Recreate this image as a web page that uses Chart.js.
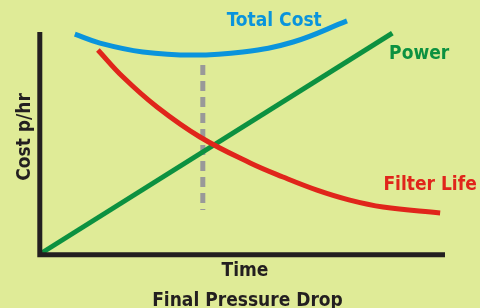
<!DOCTYPE html>
<html>
<head>
<meta charset="utf-8">
<script src="https://cdn.jsdelivr.net/npm/chart.js@4.4.1/dist/chart.umd.min.js"></script>
<style>
    html, body { margin: 0; padding: 0; background: #dfeb97; }
    #wrap { width: 480px; height: 308px; }
</style>
</head>
<body>
<div id="wrap"><canvas id="myChart" width="480" height="308"></canvas></div>
<script>
// values (x = time, y = cost, both 0..100)
var totalCostX = [8.6, 14.8, 25.4, 37.8, 50.1, 62.5, 75.8];
var totalCostY = [99.0, 95.0, 91.0, 89.6, 91.0, 95.5, 105.0];

var filterLifeX = [14.3, 20.5, 28.9, 39.5, 51.9, 60.0, 68.4, 76.5, 84.7, 98.8];
var filterLifeY = [91.9, 79.7, 66.2, 52.7, 41.0, 34.7, 28.8, 24.3, 21.2, 18.5];

var powerX = [0, 87];
var powerY = [0, 99.5];

var optimumX = [40.2, 40.2];
var optimumY = [85.1, 19.8];

var xTitle = 'Time';
var xSubTitle = 'Final Pressure Drop';
var yTitle = 'Cost p/hr';

var FONT = "bold 19px 'DejaVu Sans Condensed', 'DejaVu Sans', sans-serif";

function toPoints(xs, ys){
    var pts = [];
    for (var i = 0; i < xs.length; i++) {
        pts.push({x: xs[i], y: ys[i]});
    }
    return pts;
}

var bgPlugin = {
    id: 'bg',
    beforeDraw: function(chart){
        var c = chart.ctx;
        c.save();
        c.fillStyle = '#dfeb97';
        c.fillRect(0, 0, chart.width, chart.height);
        c.restore();
    }
};

var axesPlugin = {
    id: 'axesAndText',
    afterDatasetsDraw: function(chart){
        var c = chart.ctx;
        var a = chart.chartArea;
        c.save();
        c.strokeStyle = '#231f20';
        c.lineWidth = 5;
        c.lineCap = 'butt';
        c.beginPath();
        c.moveTo(a.left - 0.2, a.top);
        c.lineTo(a.left - 0.2, a.bottom + 3.3);
        c.moveTo(a.left - 2.7, a.bottom + 0.8);
        c.lineTo(a.right, a.bottom + 0.8);
        c.stroke();
        c.restore();
    },
    afterDraw: function(chart){
        var c = chart.ctx;
        var a = chart.chartArea;
        var xs = chart.scales.x;
        var ys = chart.scales.y;
        c.save();
        c.font = FONT;
        c.textBaseline = 'alphabetic';

        // series labels, anchored in data units
        c.textAlign = 'left';
        c.fillStyle = '#0a94dc';
        c.fillText('Total Cost', xs.getPixelForValue(46.1), ys.getPixelForValue(102.5));
        c.fillStyle = '#0c9140';
        c.fillText('Power', xs.getPixelForValue(86.2), ys.getPixelForValue(87.8));
        c.fillStyle = '#e0251b';
        c.fillText('Filter Life', xs.getPixelForValue(84.8), ys.getPixelForValue(28.8));

        // axis titles
        c.fillStyle = '#231f20';
        c.textAlign = 'center';
        c.fillText(xTitle, 245, a.bottom + 22.3);
        c.fillText(xSubTitle, 247.5, a.bottom + 52);

        c.translate(30, 137);
        c.rotate(-Math.PI / 2);
        c.fillText(yTitle, 0, 0);
        c.restore();
    }
};

var ctx = document.getElementById('myChart').getContext('2d');
var myChart = new Chart(ctx, {
    type: 'line',
    data: {
        datasets: [{
            label: 'Optimum',
            data: toPoints(optimumX, optimumY),
            borderColor: '#999999',
            borderWidth: 5,
            borderDash: [10, 6],
            borderCapStyle: 'butt',
            pointRadius: 0,
            clip: false,
            order: 3
        },{
            label: 'Power',
            data: toPoints(powerX, powerY),
            borderColor: '#0c9140',
            borderWidth: 5,
            pointRadius: 0,
            clip: false,
            order: 2
        },{
            label: 'Filter Life',
            data: toPoints(filterLifeX, filterLifeY),
            borderColor: '#e0251b',
            borderWidth: 5,
            tension: 0.4,
            pointRadius: 0,
            clip: false,
            order: 1
        },{
            label: 'Total Cost',
            data: toPoints(totalCostX, totalCostY),
            borderColor: '#0a94dc',
            borderWidth: 5,
            tension: 0.4,
            pointRadius: 0,
            clip: false,
            order: 0
        }]
    },
    options: {
        responsive: false,
        animation: false,
        layout: {
            padding: { left: 40, right: 35, top: 32, bottom: 54 }
        },
        scales: {
            x: { type: 'linear', min: 0, max: 100, display: false },
            y: { type: 'linear', min: 0, max: 100, display: false }
        },
        plugins: {
            legend: { display: false },
            tooltip: { enabled: false }
        }
    },
    plugins: [bgPlugin, axesPlugin]
});
</script>
</body>
</html>
